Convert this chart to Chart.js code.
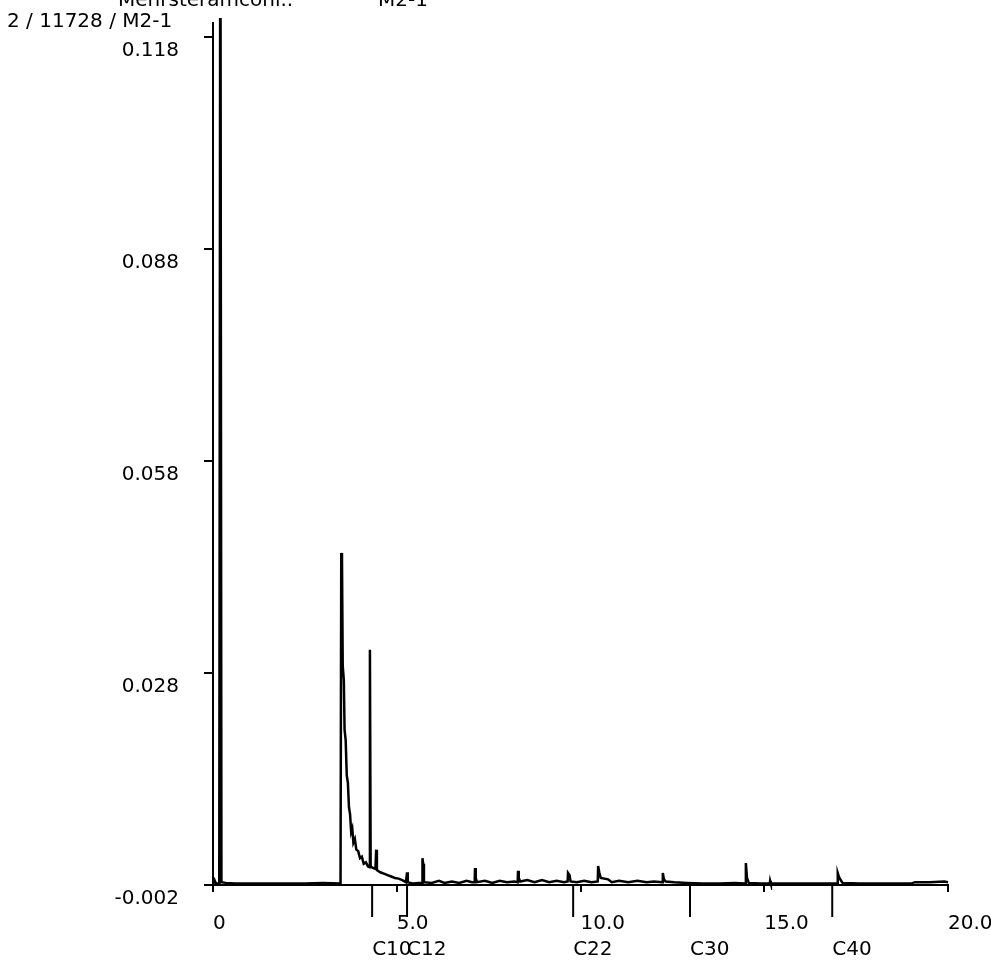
<!DOCTYPE html>
<html><head><meta charset="utf-8">
<script src="https://cdn.jsdelivr.net/npm/chart.js@4/dist/chart.umd.min.js"></script>
<style>html,body{margin:0;padding:0;background:#fff}#wrap{width:991px;height:960px;position:relative}</style>
</head><body><div id="wrap"><canvas id="c" width="991" height="960"></canvas></div>
<script>
const times = [0.00,0.04,0.08,0.17,0.20,0.23,0.35,0.60,1.50,2.50,3.00,3.47,3.49,3.51,3.53,3.56,3.58,3.61,3.64,3.67,3.70,3.73,3.76,3.79,3.82,3.86,3.90,3.95,4.00,4.05,4.10,4.16,4.22,4.26,4.27,4.29,4.36,4.42,4.44,4.46,4.55,4.65,4.75,4.85,4.95,5.05,5.15,5.25,5.28,5.30,5.45,5.60,5.69,5.70,5.72,5.74,5.95,6.15,6.30,6.50,6.70,6.90,7.05,7.12,7.13,7.15,7.18,7.40,7.60,7.80,8.00,8.20,8.29,8.30,8.32,8.36,8.55,8.75,8.95,9.15,9.35,9.55,9.65,9.66,9.70,9.73,9.90,10.10,10.30,10.47,10.48,10.51,10.55,10.75,10.85,11.05,11.30,11.55,11.80,12.00,12.23,12.24,12.27,12.32,12.55,12.90,13.30,13.80,14.20,14.48,14.50,14.53,14.58,14.90,15.15,15.16,15.18,15.60,16.20,16.98,17.00,17.03,17.08,17.13,17.60,18.40,19.00,19.10,19.50,19.90,20.00];
const signal = [-0.0018,-0.0013,-0.0018,-0.0018,0.1500,-0.0016,-0.0017,-0.0018,-0.0018,-0.0018,-0.0017,-0.0018,0.0450,0.0440,0.0290,0.0270,0.0200,0.0185,0.0135,0.0125,0.0090,0.0080,0.0055,0.0060,0.0040,0.0045,0.0030,0.0028,0.0018,0.0020,0.0010,0.0012,0.0006,0.0005,0.0313,0.0006,0.0004,0.0003,0.0030,0.0001,-0.0002,-0.0004,-0.0006,-0.0008,-0.0010,-0.0011,-0.0013,-0.0016,-0.0002,-0.0016,-0.0018,-0.0017,-0.0017,0.0018,0.0010,-0.0016,-0.0017,-0.0014,-0.0017,-0.0015,-0.0017,-0.0014,-0.0016,-0.0016,0.0004,-0.0010,-0.0016,-0.0014,-0.0017,-0.0014,-0.0016,-0.0015,-0.0016,0.0000,-0.0010,-0.0015,-0.0013,-0.0016,-0.0013,-0.0016,-0.0014,-0.0016,-0.0015,-0.0003,-0.0006,-0.0015,-0.0016,-0.0014,-0.0016,-0.0015,0.0007,-0.0002,-0.0010,-0.0012,-0.0016,-0.0014,-0.0016,-0.0014,-0.0016,-0.0015,-0.0016,-0.0003,-0.0012,-0.0015,-0.0016,-0.0017,-0.0018,-0.0018,-0.0017,-0.0018,0.0011,-0.0010,-0.0017,-0.0018,-0.0018,-0.0014,-0.0018,-0.0018,-0.0018,-0.0018,-0.0003,-0.0008,-0.0013,-0.0017,-0.0018,-0.0018,-0.0018,-0.0016,-0.0016,-0.0015,-0.0016];
const xTickValues = [0,5,10,15,20];
const xTickLabels = ['0','5.0','10.0','15.0','20.0'];
const yTickValues = [0.118,0.088,0.058,0.028,-0.002];
const yTickLabels = ['0.118','0.088','0.058','0.028','-0.002'];
const markerTimes = [4.33,5.28,9.80,12.98,16.85];
const markerLabels = ['C10','C12','C22','C30','C40'];
const headerText = '2 / 11728 / M2-1';
const topCutTexts = ['Mehrsteramcohl..','M2-1'];

const FONT = 'DejaVu Sans';

const annotPlugin = {
  id: 'annot',
  afterDraw(chart) {
    const ctx = chart.ctx;
    const xs = chart.scales.x;
    const bottom = chart.chartArea.bottom;
    ctx.save();
    ctx.strokeStyle = '#000';
    ctx.fillStyle = '#000';
    ctx.lineWidth = 2;
    ctx.font = '20px "' + FONT + '"';
    ctx.textAlign = 'left';
    ctx.textBaseline = 'middle';
    markerTimes.forEach((t, i) => {
      const px = xs.getPixelForValue(t);
      ctx.beginPath();
      ctx.moveTo(px, bottom);
      ctx.lineTo(px, bottom + 32);
      ctx.stroke();
      ctx.fillText(markerLabels[i], px, 950);
    });
    ctx.fillText(headerText, 7, 22);
    ctx.textBaseline = 'alphabetic';
    ctx.fillText(topCutTexts[0], 118, 6);
    ctx.fillText(topCutTexts[1], 378, 6);
    ctx.restore();
  }
};

new Chart(document.getElementById('c'), {
  type: 'line',
  data: {
    datasets: [{
      data: times.map((t, i) => ({x: t, y: signal[i]})),
      borderColor: '#000',
      borderWidth: 2.5,
      pointRadius: 0,
      tension: 0,
      fill: false,
      clip: {left: 5, top: 5, right: 5, bottom: 5}
    }]
  },
  options: {
    responsive: false,
    animation: false,
    events: [],
    layout: {padding: {top: 23, right: 43, left: 0, bottom: 0}},
    plugins: {legend: {display: false}, tooltip: {enabled: false}, title: {display: false}},
    scales: {
      x: {
        type: 'linear', min: 0, max: 20, position: 'bottom',
        afterBuildTicks: s => { s.ticks = xTickValues.map(v => ({value: v})); },
        afterFit: s => { s.height = 75; s.paddingLeft = 0; s.paddingRight = 0; },
        ticks: {
          align: 'start', padding: 20, color: '#000', maxRotation: 0, autoSkip: false,
          font: {family: FONT, size: 20},
          callback: (v, i) => xTickLabels[i]
        },
        grid: {drawOnChartArea: false, tickLength: 7, color: '#000', lineWidth: 2},
        border: {color: '#000', width: 2}
      },
      y: {
        type: 'linear', min: -0.002, max: 0.120,
        afterBuildTicks: s => { s.ticks = yTickValues.map(v => ({value: v})); },
        afterFit: s => { s.width = 213; s.paddingTop = 0; s.paddingBottom = 0; },
        ticks: {
          padding: 25, labelOffset: 14, color: '#000', autoSkip: false,
          font: {family: FONT, size: 20},
          callback: (v, i) => yTickLabels[i]
        },
        grid: {drawOnChartArea: false, tickLength: 9, color: '#000', lineWidth: 2},
        border: {color: '#000', width: 2}
      }
    }
  },
  plugins: [annotPlugin]
});
</script></body></html>
